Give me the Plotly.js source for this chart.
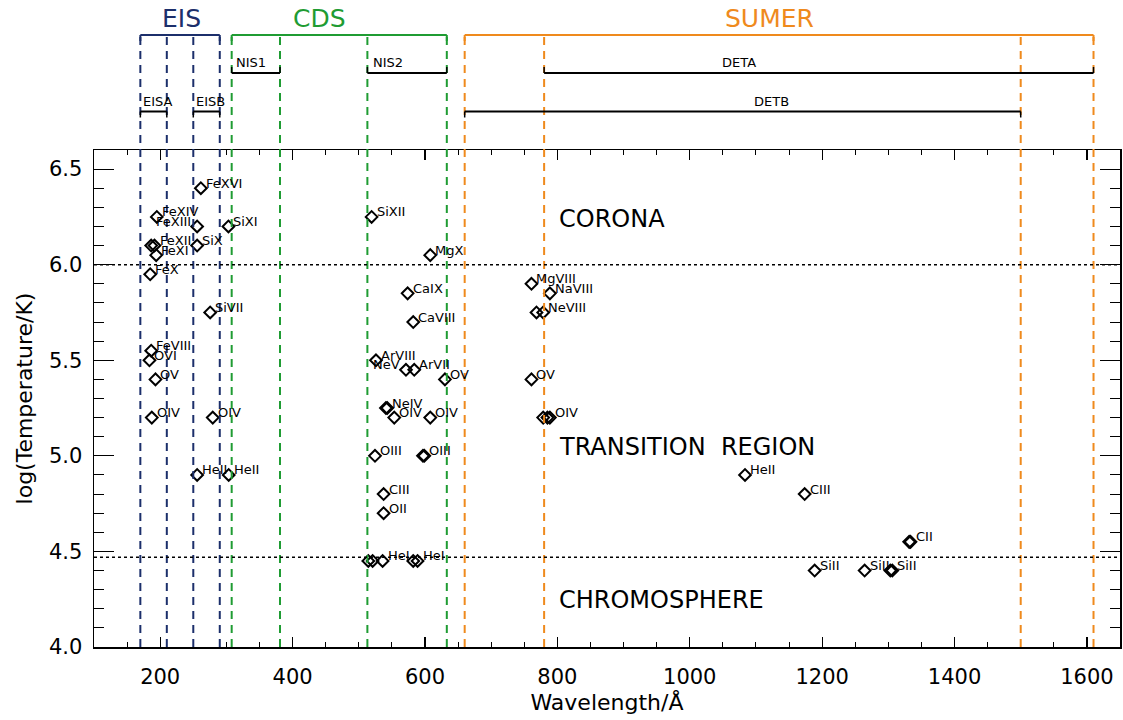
<!DOCTYPE html>
<html>
<head>
<meta charset="utf-8">
<script src="https://cdn.plot.ly/plotly-3.0.1.min.js"></script>
<style>html,body{margin:0;padding:0;background:#fff;}#chart{width:1123px;height:720px;}</style>
</head>
<body>
<div id="chart"></div>
<script>
// ---- Spectral lines: wavelength (Å), log T, ion label ----
const ions = ['FeXVI','FeXIV','FeXIII','','FeXII','FeXI','SiX','FeX','SiXI','SiVII',
  'FeVIII','OVI','OV','OIV','OIV','HeII','HeII',
  'SiXII','MgX','CaIX','CaVIII','ArVIII','NeV','ArVII','OV','','NeIV','OIV','OIV',
  'OIII','','OIII','CIII','OII','','','HeI','','HeI',
  'MgVIII','NaVIII','','NeVIII','OV','','','OIV',
  'HeII','CIII','','CII','SiII','SiII','','SiII'];
const wavelength = [261.4,194.9,255.8,186.4,191.4,194.0,255.8,184.9,303.1,275.5,
  186.4,183.8,192.9,187.3,279.4,255.8,303.5,
  519.4,608.0,573.8,582.3,526.0,571.3,583.8,630.2,541.0,543.0,553.6,608.0,
  524.5,597.0,599.0,537.5,537.5,514.4,520.9,536.0,582.3,588.8,
  760.9,788.7,768.5,778.6,760.9,778.6,785.0,788.7,
  1083.5,1173.6,1331.5,1333.5,1188.7,1264.2,1303.0,1306.0];
const logT = [6.40,6.25,6.20,6.10,6.10,6.05,6.10,5.95,6.20,5.75,
  5.55,5.50,5.40,5.20,5.20,4.90,4.90,
  6.25,6.05,5.85,5.70,5.50,5.45,5.45,5.40,5.25,5.25,5.20,5.20,
  5.00,5.00,5.00,4.80,4.70,4.45,4.45,4.45,4.45,4.45,
  5.90,5.85,5.75,5.75,5.40,5.20,5.20,5.20,
  4.90,4.80,4.55,4.55,4.40,4.40,4.40,4.40];
// which side the ion label sits on (style)
const labelSide = ions.map((s,i)=> (i===2 || i===22) ? 'l' : 'r');

// ---- Instrument wavelength ranges (Å) ----
const eisEdges = [170,210,250,290];
const cdsEdges = [308,381,513,633];
const sumerEdges = [660,780,1500,1610];
const detectors = [
  {name:'EISA', range:[170,210], row:2, labelX:171, anchor:'left'},
  {name:'EISB', range:[250,290], row:2, labelX:251, anchor:'left'},
  {name:'NIS1', range:[308,381], row:1, labelX:312, anchor:'left'},
  {name:'NIS2', range:[513,633], row:1, labelX:518, anchor:'left'},
  {name:'DETA', range:[780,1610], row:1, labelX:1074, anchor:'center'},
  {name:'DETB', range:[660,1500], row:2, labelX:1124, anchor:'center'}
];
const instruments = [
  {name:'EIS', edges:eisEdges, color:'#1c2f6b', labelX:232},
  {name:'CDS', edges:cdsEdges, color:'#1f9c33', labelX:440},
  {name:'SUMER', edges:sumerEdges, color:'#ef8a1d', labelX:1120}
];
const tempBoundaries = [6.0, 4.47];
const regions = [
  {name:'CORONA', x:800, y:6.24},
  {name:'TRANSITION  REGION', x:800, y:5.045},
  {name:'CHROMOSPHERE', x:800, y:4.245}
];

// ---- geometry helpers (pixel rows of the header area -> paper coords) ----
const M = {l:94, r:3, t:10, b:73};
const H = 720;
const plotH = H - M.t - M.b;           // 637
const paperY = p => (H - M.b - p) / plotH;
const mainTop = paperY(150);
const rowY = {0:paperY(35), 1:paperY(73), 2:paperY(111.5)};

const FONT = 'DejaVu Sans, Liberation Sans, sans-serif';
const shapes = [];
const annotations = [];

instruments.forEach(ins => {
  ins.edges.forEach(e => shapes.push({type:'line', xref:'x', yref:'paper', x0:e, x1:e, y0:0, y1:rowY[0],
    line:{color:ins.color, width:2, dash:'8px,6px'}}));
  const lo = ins.edges[0], hi = ins.edges[ins.edges.length-1];
  shapes.push({type:'line', xref:'x', yref:'paper', x0:lo, x1:hi, y0:rowY[0], y1:rowY[0], line:{color:ins.color, width:2}});
  [lo,hi].forEach(e => shapes.push({type:'line', xref:'x', yref:'paper', x0:e, x1:e, y0:rowY[0], y1:paperY(41), line:{color:ins.color, width:2}}));
  annotations.push({xref:'x', yref:'paper', x:ins.labelX, y:paperY(19), text:ins.name, showarrow:false,
    xanchor:'center', yanchor:'middle', font:{family:FONT, size:25, color:ins.color}});
});

detectors.forEach(d => {
  const y = rowY[d.row];
  shapes.push({type:'line', xref:'x', yref:'paper', x0:d.range[0], x1:d.range[1], y0:y, y1:y, line:{color:'#000', width:2}});
  const tip = d.row === 1 ? paperY(73-6) : paperY(111.5+6);
  d.range.forEach(e => shapes.push({type:'line', xref:'x', yref:'paper', x0:e, x1:e, y0:y, y1:tip, line:{color:'#000', width:1.5}}));
  annotations.push({xref:'x', yref:'paper', x:d.labelX, y:y, yshift:1, text:d.name, showarrow:false,
    xanchor:d.anchor, yanchor:'bottom', font:{family:FONT, size:13, color:'#000'}});
});

tempBoundaries.forEach(t => shapes.push({type:'line', xref:'paper', yref:'y', x0:0, x1:1, y0:t, y1:t,
  line:{color:'#000', width:1.5, dash:'dot'}}));

regions.forEach(r => annotations.push({xref:'x', yref:'y', x:r.x, y:r.y, text:r.name, showarrow:false,
  xanchor:'left', yanchor:'middle', font:{family:FONT, size:24, color:'#000'}}));

ions.forEach((lab,i) => {
  if (!lab) return;
  const left = labelSide[i] === 'l';
  annotations.push({xref:'x', yref:'y', x:wavelength[i], y:logT[i], text:lab, showarrow:false,
    xanchor: left ? 'right' : 'left', yanchor:'middle', xshift: left ? -4 : 3, yshift:5,
    font:{family:FONT, size:13, color:'#000'}});
});

const trace = {
  type:'scatter', mode:'markers', x:wavelength, y:logT, cliponaxis:false,
  marker:{symbol:'diamond-open', size:9, color:'#000', line:{width:2, color:'#000'}},
  hoverinfo:'skip'
};

const layout = {
  width:1123, height:720, margin:M,
  paper_bgcolor:'#fff', plot_bgcolor:'#fff', showlegend:false,
  font:{family:FONT, color:'#000'},
  xaxis:{range:[100,1650], showgrid:false, zeroline:false, showline:true, linecolor:'#000', linewidth:1.5,
    mirror:'allticks', ticks:'inside', ticklen:10, tickwidth:1.2, tickcolor:'#000',
    tick0:200, dtick:200, minor:{dtick:50, ticks:'inside', ticklen:5, tickwidth:1, tickcolor:'#000'},
    tickfont:{family:FONT, size:21}, ticklabelstandoff:10,
    title:{text:'Wavelength/Å', font:{family:FONT, size:22}, standoff:6}},
  yaxis:{domain:[0, mainTop], range:[4.0,6.6], showgrid:false, zeroline:false, showline:true, linecolor:'#000', linewidth:1.5,
    mirror:'allticks', ticks:'inside', ticklen:20, tickwidth:1.2, tickcolor:'#000',
    tick0:4.0, dtick:0.5, tickformat:'.1f', minor:{dtick:0.1, ticks:'inside', ticklen:10, tickwidth:1, tickcolor:'#000'},
    tickfont:{family:FONT, size:21}, ticklabelstandoff:6,
    title:{text:'log(Temperature/K)', font:{family:FONT, size:22}, standoff:10}},
  shapes:shapes,
  annotations:annotations
};

Plotly.newPlot('chart', [trace], layout, {displayModeBar:false, staticPlot:true});
</script>
</body>
</html>
